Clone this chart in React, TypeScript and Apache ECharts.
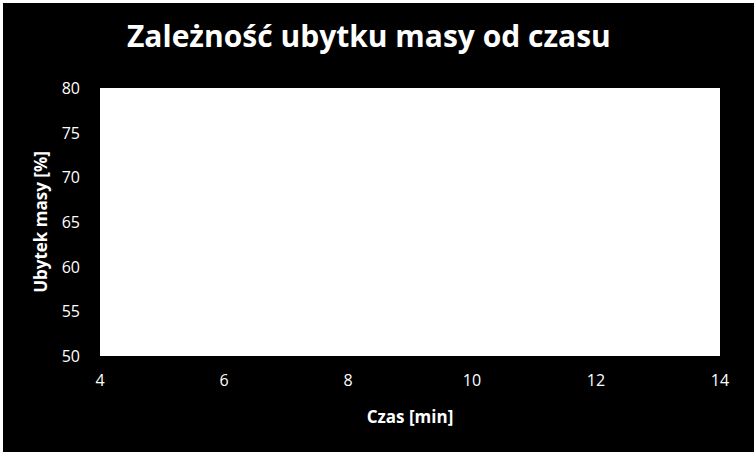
import React, { useEffect, useRef } from 'react'
import * as echarts from 'echarts'

// no measurements plotted in the source chart - axes only
const czas: number[] = []
const ubytek: number[] = []

const xMin = 4
const xMax = 14
const xStep = 2
const yMin = 50
const yMax = 80
const yStep = 5

const tytul = 'Zależność ubytku masy od czasu'
const osX = 'Czas [min]'
const osY = 'Ubytek masy [%]'

const font = '"Open Sans", "Noto Sans", sans-serif'

export default function App() {
  const chartRef = useRef<HTMLDivElement>(null)

  useEffect(() => {
    document.body.style.margin = '0'
    document.body.style.background = '#000000'
    if (!chartRef.current) {
      return
    }
    const chart = echarts.init(chartRef.current, null, { renderer: 'svg' })

    const punkty = czas.map((c, i) => [c, ubytek[i]])

    const option = {
      animation: false,
      backgroundColor: '#000000',
      textStyle: { fontFamily: font },
      title: {
        text: tytul,
        left: 122,
        top: 15,
        textStyle: {
          color: '#ffffff',
          fontSize: 30,
          fontWeight: 'bold',
          fontFamily: font
        }
      },
      grid: {
        left: 100,
        top: 88,
        right: 34,
        bottom: 96,
        show: true,
        backgroundColor: '#ffffff',
        borderWidth: 0
      },
      xAxis: {
        type: 'value',
        min: xMin,
        max: xMax,
        interval: xStep,
        name: osX,
        nameLocation: 'middle',
        nameGap: 52,
        nameTextStyle: {
          color: '#ffffff',
          fontSize: 17,
          fontWeight: 'bold',
          fontFamily: font
        },
        axisLine: { show: false },
        axisTick: { show: false },
        splitLine: { show: false },
        axisLabel: {
          color: '#ffffff',
          fontSize: 16,
          margin: 16,
          fontFamily: font
        }
      },
      yAxis: {
        type: 'value',
        min: yMin,
        max: yMax,
        interval: yStep,
        name: osY,
        nameLocation: 'middle',
        nameGap: 51,
        nameTextStyle: {
          color: '#ffffff',
          fontSize: 17,
          fontWeight: 'bold',
          fontFamily: font
        },
        axisLine: { show: false },
        axisTick: { show: false },
        splitLine: { show: false },
        axisLabel: {
          color: '#ffffff',
          fontSize: 16,
          margin: 20,
          fontFamily: font
        }
      },
      graphic: [
        {
          type: 'rect',
          left: 0,
          top: 0,
          shape: { width: 754, height: 3 },
          style: { fill: '#ffffff' }
        },
        {
          type: 'rect',
          left: 0,
          top: 0,
          shape: { width: 3, height: 452 },
          style: { fill: '#ffffff' }
        }
      ],
      series: [
        {
          type: 'scatter',
          data: punkty,
          symbolSize: 6,
          itemStyle: { color: '#4f81bd' }
        }
      ]
    }

    chart.setOption(option)

    return () => {
      chart.dispose()
    }
  }, [])

  return (
    <div
      ref={chartRef}
      style={{ width: '754px', height: '452px' }}
    />
  )
}
